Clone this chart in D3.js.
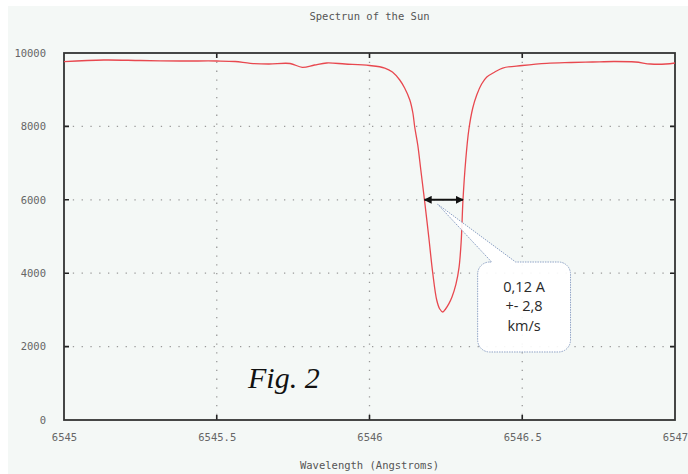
<!DOCTYPE html>
<html>
<head>
<meta charset="utf-8">
<script src="https://cdn.jsdelivr.net/npm/d3@7"></script>
<style>
  html, body { margin: 0; padding: 0; background: #ffffff; }
  svg { display: block; }
</style>
</head>
<body>
<div id="chart"></div>
<script>
// wavelength (Angstroms) and intensity
const wavelength = [6545.00, 6545.13, 6545.25, 6545.38, 6545.50, 6545.56, 6545.61, 6545.67,
    6545.74, 6545.78, 6545.82, 6545.86, 6545.92, 6546.00, 6546.05, 6546.075, 6546.099,
    6546.115, 6546.132, 6546.142, 6546.148, 6546.158, 6546.168, 6546.180, 6546.194,
    6546.207, 6546.220, 6546.230, 6546.240, 6546.249, 6546.260, 6546.270, 6546.283,
    6546.293, 6546.300, 6546.306, 6546.315, 6546.325, 6546.338, 6546.351, 6546.367,
    6546.384, 6546.410, 6546.436, 6546.50, 6546.58, 6546.66, 6546.73, 6546.80, 6546.87,
    6546.92, 6546.97, 6547.00];
const intensity = [9763, 9809, 9796, 9782, 9782, 9768, 9719, 9700,
    9714, 9610, 9673, 9728, 9700, 9659, 9591, 9480, 9264,
    9046, 8719, 8365, 7984, 7493, 6812, 5995, 4986,
    4005, 3270, 3025, 2943, 3025, 3170, 3350, 3700,
    4150, 4850, 5995, 7084, 7902, 8501, 8856, 9155,
    9346, 9482, 9591, 9659, 9719, 9741, 9755, 9768, 9755,
    9700, 9700, 9728];

const xTicks = [6545, 6545.5, 6546, 6546.5, 6547];
const yTicks = [0, 2000, 4000, 6000, 8000, 10000];

// width measurement at 6000
const fwhmLevel = 6000;
const fwhmFrom = 6546.18, fwhmTo = 6546.306;
const calloutTip = [6546.223, 5880];
const calloutBox = {x0: 6546.354, x1: 6546.658, yTop: 4305, yBottom: 1853};
const calloutLines = ["0,12 A", "+- 2,8", "km/s"];

const W = 688, H = 474;
const margin = {top: 53, right: 13, bottom: 54, left: 64};
const width = W - margin.left - margin.right,
      height = H - margin.top - margin.bottom;

const svg = d3.select("#chart").append("svg")
    .attr("width", W).attr("height", H);

svg.append("rect").attr("x", 8).attr("y", 6).attr("width", W - 8).attr("height", H - 6)
    .attr("fill", "#f4f8f6");

const g = svg.append("g").attr("transform", `translate(${margin.left},${margin.top})`);

const x = d3.scaleLinear().domain([6545, 6547]).range([0, width]);
const y = d3.scaleLinear().domain([0, 10000]).range([height, 0]);

const labelFont = "'DejaVu Sans Mono', monospace";

// grid
g.selectAll(".vgrid").data(xTicks.slice(1, -1)).enter().append("line")
    .attr("x1", d => x(d)).attr("x2", d => x(d)).attr("y1", 0).attr("y2", height)
    .attr("stroke", "#9a9a9a").attr("stroke-width", 1.3).attr("stroke-dasharray", "1.3,7.5");
g.selectAll(".hgrid").data(yTicks.slice(1, -1)).enter().append("line")
    .attr("y1", d => y(d)).attr("y2", d => y(d)).attr("x1", 0).attr("x2", width)
    .attr("stroke", "#9a9a9a").attr("stroke-width", 1.3).attr("stroke-dasharray", "1.3,7.5");

// axes (labels only, ticks drawn inward)
g.append("g").attr("transform", `translate(0,${height})`)
    .call(d3.axisBottom(x).tickValues(xTicks).tickSize(0).tickPadding(14).tickFormat(d3.format("")))
    .call(a => a.select(".domain").remove())
    .call(a => a.selectAll("text").attr("fill", "#666").style("font-family", labelFont).style("font-size", "10.5px"));
g.append("g")
    .call(d3.axisLeft(y).tickValues(yTicks).tickSize(0).tickPadding(18).tickFormat(d3.format("")))
    .call(a => a.select(".domain").remove())
    .call(a => a.selectAll("text").attr("fill", "#666").style("font-family", labelFont).style("font-size", "10.5px"));

// inward ticks
const tk = 5;
g.selectAll(".xt").data(xTicks.slice(1, -1)).enter().append("path")
    .attr("d", d => `M${x(d)},0v${tk}M${x(d)},${height}v${-tk}`)
    .attr("stroke", "#222").attr("stroke-width", 1.6);
g.selectAll(".yt").data(yTicks.slice(1, -1)).enter().append("path")
    .attr("d", d => `M0,${y(d)}h${tk}M${width},${y(d)}h${-tk}`)
    .attr("stroke", "#222").attr("stroke-width", 1.6);

// frame
g.append("rect").attr("width", width).attr("height", height)
    .attr("fill", "none").attr("stroke", "#333").attr("stroke-width", 1.8);

// spectrum
g.append("path")
    .datum(wavelength.map((w, i) => [w, intensity[i]]))
    .attr("fill", "none").attr("stroke", "#e8484f").attr("stroke-width", 1.3)
    .attr("d", d3.line().x(d => x(d[0])).y(d => y(d[1])).curve(d3.curveCatmullRom.alpha(0.5)));

// titles
svg.append("text").attr("x", margin.left + width / 2).attr("y", 20)
    .attr("text-anchor", "middle").attr("fill", "#555")
    .style("font-family", labelFont).style("font-size", "10.5px")
    .text("Spectrun of the Sun");
svg.append("text").attr("x", margin.left + width / 2).attr("y", 469)
    .attr("text-anchor", "middle").attr("fill", "#555")
    .style("font-family", labelFont).style("font-size", "10.5px")
    .text("Wavelength (Angstroms)");

// callout
const bx0 = x(calloutBox.x0), bx1 = x(calloutBox.x1),
      by0 = y(calloutBox.yTop), by1 = y(calloutBox.yBottom);
const tip = [x(calloutTip[0]), y(calloutTip[1])];
const r = 12;
const p = d3.path();
p.moveTo(bx0 + r, by0);
p.lineTo(bx0 + 14, by0);
p.lineTo(tip[0], tip[1]);
p.lineTo(bx0 + 38, by0);
p.lineTo(bx1 - r, by0);
p.arcTo(bx1, by0, bx1, by0 + r, r);
p.lineTo(bx1, by1 - r);
p.arcTo(bx1, by1, bx1 - r, by1, r);
p.lineTo(bx0 + r, by1);
p.arcTo(bx0, by1, bx0, by1 - r, r);
p.lineTo(bx0, by0 + r);
p.arcTo(bx0, by0, bx0 + r, by0, r);
p.closePath();
g.append("path").attr("d", p.toString())
    .attr("fill", "#ffffff").attr("fill-opacity", 0.92)
    .attr("stroke", "#8fa3c6").attr("stroke-width", 1).attr("stroke-dasharray", "1.5,1");

g.selectAll(".cl").data(calloutLines).enter().append("text")
    .attr("x", (bx0 + bx1) / 2).attr("y", (d, i) => (by0 + by1) / 2 - 19 + i * 19.5)
    .attr("text-anchor", "middle").attr("dominant-baseline", "middle")
    .attr("fill", "#2a2a2a").style("font-family", "'Open Sans', sans-serif").style("font-size", "14.5px")
    .text(d => d);

// double arrow
const defs = svg.append("defs");
defs.append("marker").attr("id", "ah").attr("viewBox", "0 0 10 10")
    .attr("refX", 9).attr("refY", 5).attr("markerWidth", 4).attr("markerHeight", 4)
    .attr("orient", "auto-start-reverse").attr("markerUnits", "strokeWidth")
    .append("path").attr("d", "M0,0L10,5L0,10z").attr("fill", "#111");
g.append("line")
    .attr("x1", x(fwhmFrom)).attr("x2", x(fwhmTo)).attr("y1", y(fwhmLevel)).attr("y2", y(fwhmLevel))
    .attr("stroke", "#111").attr("stroke-width", 2)
    .attr("marker-start", "url(#ah)").attr("marker-end", "url(#ah)");

// figure label
svg.append("text").attr("x", 248).attr("y", 388)
    .attr("fill", "#111").style("font-family", "'Liberation Serif', serif")
    .style("font-style", "italic").style("font-size", "30px")
    .text("Fig. 2");
</script>
</body>
</html>
